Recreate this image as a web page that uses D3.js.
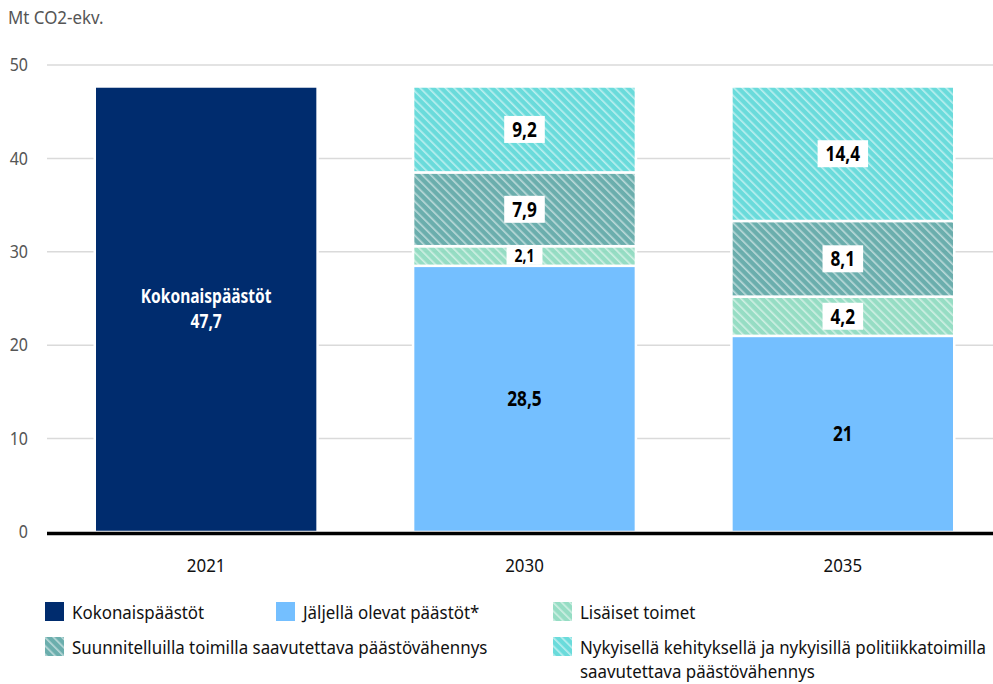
<html>
<head>
<meta charset="utf-8">
<script src="https://d3js.org/d3.v7.min.js"></script>
<style>
body { margin: 0; background: #fff; }
svg { display: block; font-family: "Noto Sans", "Open Sans", sans-serif; }
</style>
</head>
<body>
<svg id="chart" width="993" height="684"></svg>
<script>

var years = ["2021", "2030", "2035"]
var keys = ["total", "remaining", "extra", "planned", "current"]
var names = ["Kokonaispäästöt", "Jäljellä olevat päästöt*", "Lisäiset toimet",
	"Suunnitelluilla toimilla saavutettava päästövähennys",
	"Nykyisellä kehityksellä ja nykyisillä politiikkatoimilla saavutettava päästövähennys"]
var total     = [47.7, 0, 0]
var remaining = [0, 28.5, 21]
var extra     = [0, 2.1, 4.2]
var planned   = [0, 7.9, 8.1]
var current   = [0, 9.2, 14.4]
var yTicks = [0, 10, 20, 30, 40, 50]

var colors = {total: "#002c6e", remaining: "#74bfff", extra: "#8ddbbf", planned: "#5fa7a6", current: "#5ed8d8"}
var hatched = ["extra", "planned", "current"]

var data = years.map((y, i) => ({year: y, total: total[i], remaining: remaining[i], extra: extra[i], planned: planned[i], current: current[i]}))

var svg = d3.select("#chart")
var margin = {top: 65, left: 47, bottom: 152, right: 0}
var height = +svg.attr("height")

// condensed look: the reference uses a narrow font, so squeeze text horizontally
function narrow(sel, s) {
	sel.attr("transform", function() {
		var x0 = +this.getAttribute("x") || 0
		return `translate(${x0},0) scale(${s},1) translate(${-x0},0)`
	})
}
var squeeze = 0.89, squeezeBold = 0.82

var defs = svg.append("defs")
hatched.forEach(k => {
	var p = defs.append("pattern")
		.attr("id", "hatch-" + k)
		.attr("patternUnits", "userSpaceOnUse")
		.attr("width", 6).attr("height", 6)
		.attr("patternTransform", "rotate(-45)")
	p.append("rect").attr("width", 6).attr("height", 6).attr("fill", colors[k]).attr("fill-opacity", 0.92)
	p.append("rect").attr("x", 0).attr("width", 1.6).attr("height", 6).attr("fill", "#fff").attr("fill-opacity", 0.55)
})
var fillOf = k => hatched.includes(k) ? "url(#hatch-" + k + ")" : colors[k]

var x = d3.scaleBand().domain(years).range([margin.left, 1002]).paddingInner(0.3).paddingOuter(0.15)
var y = d3.scaleLinear().domain([0, 50]).range([height - margin.bottom, margin.top])

// grid
svg.append("g").selectAll("line").data(yTicks.slice(1)).enter().append("line")
	.attr("x1", margin.left).attr("x2", 993)
	.attr("y1", d => y(d)).attr("y2", d => y(d))
	.attr("stroke", "#dadada").attr("stroke-width", 1.5)

svg.append("g").selectAll("text").data(yTicks).enter().append("text")
	.attr("x", 28).attr("y", d => y(d)).attr("dy", "0.35em")
	.attr("text-anchor", "end").attr("fill", "#555").attr("font-size", 18)
	.text(d => d)

svg.append("text").attr("x", 8).attr("y", 24).attr("fill", "#555").attr("font-size", 19).text("Mt CO2-ekv.")

// bars
var stack = d3.stack().keys(keys)(data)
var layer = svg.append("g").selectAll("g").data(stack).enter().append("g")
	.attr("fill", d => fillOf(d.key))
layer.selectAll("rect").data(d => d.filter(s => s[1] - s[0] > 0)).enter().append("rect")
	.attr("x", d => x(d.data.year))
	.attr("width", x.bandwidth())
	.attr("y", d => y(d[1]))
	.attr("height", d => y(d[0]) - y(d[1]))
	.attr("stroke", "#fff").attr("stroke-width", 2.5)

// value labels
var fmt = v => String(v).replace(".", ",")
stack.forEach(s => {
	s.forEach(d => {
		var v = d.data[s.key]
		if (v <= 0) return
		var cx = x(d.data.year) + x.bandwidth() / 2
		var cy = (y(d[0]) + y(d[1])) / 2
		if (s.key == "total") {
			svg.append("text").attr("class", "bold").attr("x", cx).attr("y", cy - 6).attr("text-anchor", "middle")
				.attr("fill", "#fff").attr("font-weight", "bold").attr("font-size", 19)
				.text("Kokonaispäästöt")
			svg.append("text").attr("class", "bold").attr("x", cx).attr("y", cy + 19).attr("text-anchor", "middle")
				.attr("fill", "#fff").attr("font-weight", "bold").attr("font-size", 19)
				.text(fmt(v))
			return
		}
		var small = y(d[0]) - y(d[1]) < 24
		var fs = small ? 17 : 21
		var g = svg.append("g")
		var t = g.append("text").attr("class", "bold").attr("x", cx).attr("y", cy).attr("dy", "0.36em")
			.attr("text-anchor", "middle").attr("fill", "#000").attr("font-weight", "bold")
			.attr("font-size", fs).text(fmt(v))
		if (hatched.includes(s.key)) {
			var w = t.node().getComputedTextLength() * squeezeBold + 16
			var h = small ? y(d[0]) - y(d[1]) - 2 : 27
			g.insert("rect", "text").attr("x", cx - w / 2).attr("y", cy - h / 2)
				.attr("width", w).attr("height", h).attr("fill", "#fff")
		}
	})
})

// zero line
svg.append("line").attr("x1", margin.left).attr("x2", 993)
	.attr("y1", y(0) + 1.5).attr("y2", y(0) + 1.5)
	.attr("stroke", "#000").attr("stroke-width", 3.5)

// x labels
svg.append("g").selectAll("text").data(years).enter().append("text")
	.attr("x", d => x(d) + x.bandwidth() / 2).attr("y", 572)
	.attr("text-anchor", "middle").attr("fill", "#111").attr("font-size", 19)
	.text(d => d)

// legend
var legendPos = [[45, 612], [276, 612], [553, 612], [45, 647], [553, 647]]
var legend = svg.append("g").selectAll("g").data(keys).enter().append("g")
	.attr("transform", (d, i) => `translate(${legendPos[i][0]},${legendPos[i][1]})`)
legend.append("rect").attr("x", 0).attr("y", -10).attr("width", 19).attr("height", 19)
	.attr("fill", d => fillOf(d))
legend.append("text").attr("x", 27).attr("y", 0).attr("dy", "0.35em")
	.attr("fill", "#111").attr("font-size", 19)
	.each(function(d, i) {
		var t = d3.select(this)
		if (d == "current") {
			t.append("tspan").attr("x", 27).text("Nykyisellä kehityksellä ja nykyisillä politiikkatoimilla")
			t.append("tspan").attr("x", 27).attr("dy", 24).text("saavutettava päästövähennys")
		} else t.text(names[i])
	})

svg.selectAll("text:not(.bold)").call(narrow, squeeze)
svg.selectAll("text.bold").call(narrow, squeezeBold)

</script>
</body>
</html>
